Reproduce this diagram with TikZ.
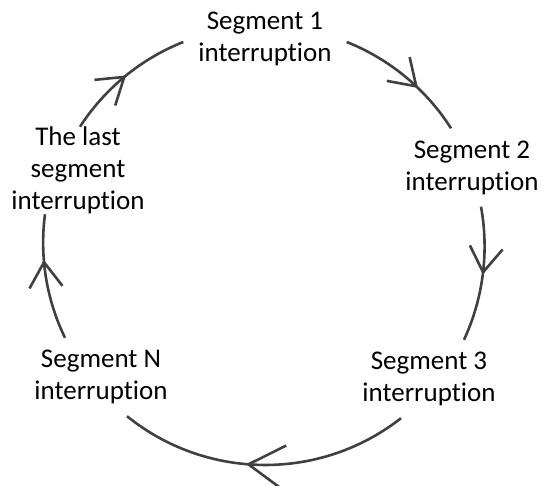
\documentclass[tikz,border=0pt]{standalone}
\usepackage{fontspec}
\setmainfont{Carlito}[Ligatures=NoCommon]
\usetikzlibrary{arrows.meta, decorations.markings}
\definecolor{linegray}{HTML}{404040}

\begin{document}
\begin{tikzpicture}[x=1pt, y=1pt]
	
	% 定义样式
	\tikzset{
		with arrow/.style={
			decoration={
				markings,
				mark=at position #1 with {\arrow{>}}
			},
			postaction={decorate}
		},
		with arrow/.default=0.5,
		cycle line/.style={
			draw=linegray, line width=2.6pt,
			>={Straight Barb[length=25pt, width=33pt]}
		},
		segment/.style={
			font=\fontsize{27}{32}\selectfont,
			align=center, inner sep=0pt,
			minimum width=163pt, minimum height=78pt
		}
	}
	
	\useasboundingbox (0,0) rectangle (542,-486);
	
	% 节点
	\node[segment] (seg1) at (265,-38.5) {Segment 1\\interruption};
	\node[segment] (seg2) at (472,-167.5) {Segment 2\\interruption};
	\node[segment] (seg3) at (429,-379) {Segment 3\\interruption};
	\node[segment] (segN) at (101,-377) {Segment N\\interruption};
	\node[segment, minimum height=85pt] (last) at (78,-170.5) {The last\\segment\\interruption};
	
	% 带箭头的圆弧
	\draw[cycle line, with arrow=0.51] ([xshift=2pt]last.north)
	to[bend left=17.8, looseness=0.87] ([yshift=-3.5pt]seg1.west);
	\draw[cycle line, with arrow=0.62] ([yshift=-3.5pt]seg1.east)
	to[bend left=18, looseness=0.87] ([xshift=-21pt]seg2.north);
	\draw[cycle line, with arrow=0.5] ([xshift=9pt]seg2.south)
	to[bend left=17.6, looseness=0.87] ([xshift=35pt]seg3.north);
	\draw[cycle line, with arrow=0.56, >={Straight Barb[length=36pt, width=44pt]}] ([xshift=-28pt]seg3.south)
	to[bend left=38.5, looseness=0.954] ([xshift=26pt]segN.south);
	\draw[cycle line, with arrow=0.64] ([xshift=-36pt]segN.north)
	to[bend left=16.7, looseness=0.87] ([xshift=-33pt]last.south);
	
\end{tikzpicture}
\end{document}
